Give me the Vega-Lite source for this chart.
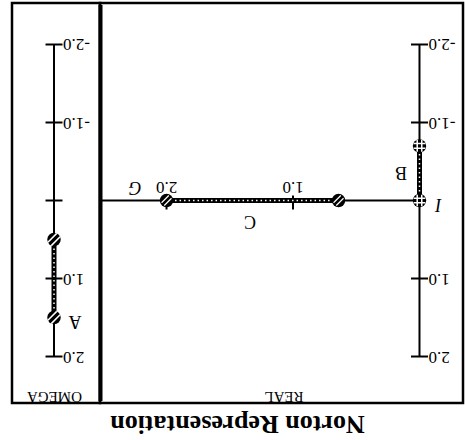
{
  "$schema": "https://vega.github.io/schema/vega-lite/v6.json",
  "padding": {"left": 10, "top": 1, "right": 2, "bottom": 2},
  "background": "white",
  "config": {"view": {"stroke": "black", "strokeWidth": 2.5}},
  "title": {"text": "Norton Representation", "orient": "bottom", "angle": 180, "baseline": "alphabetic", "offset": 11, "font": "Liberation Serif", "fontSize": 26, "fontWeight": "bold", "color": "black", "anchor": "middle"},
  "datasets": {
    "ticks": [{"v": -2, "lab": "-2.0"}, {"v": -1, "lab": "-1.0"}, {"v": 0, "lab": ""}, {"v": 1, "lab": "1.0"}, {"v": 2, "lab": "2.0"}],
    "curves": [
      {"curve": "A", "x": 0, "y": 0.5, "ord": 0},
      {"curve": "A", "x": 0, "y": 1.5, "ord": 1},
      {"curve": "B", "x": 0, "y": 0, "ord": 0},
      {"curve": "B", "x": 0, "y": -0.7, "ord": 1},
      {"curve": "C", "x": 0.64, "y": 0, "ord": 0},
      {"curve": "C", "x": 2.0, "y": 0, "ord": 1}
    ],
    "labels": [
      {"t": "A", "panel": "omega", "x": 0.21, "y": 1.545, "italic": false},
      {"t": "OMEGA", "panel": "omega", "x": 0.004, "y": 2.513, "italic": false},
      {"t": "B", "panel": "real", "x": 0.146, "y": -0.36, "italic": false},
      {"t": "C", "panel": "real", "x": 1.34, "y": 0.263, "italic": false},
      {"t": "G", "panel": "real", "x": 2.249, "y": -0.173, "italic": true},
      {"t": "I", "panel": "real", "x": -0.15, "y": 0.045, "italic": true},
      {"t": "REAL", "panel": "real", "x": 1.071, "y": 2.513, "italic": false}
    ],
    "realTicks": [{"x": 1, "lab": "1.0"}, {"x": 2, "lab": "2.0"}],
    "divider": [{"x": 2.522, "y": -2.505, "y2": 2.57}]
  },
  "hconcat": [
    {
      "width": 88,
      "height": 400,
      "layer": [
        {
          "data": {"values": [{"y": -2, "y2": 2}]},
          "mark": {"type": "rule", "strokeWidth": 2, "color": "black"},
          "encoding": {
            "x": {"datum": 0, "type": "quantitative", "scale": {"domain": [-0.42, 0.46], "nice": false, "zero": false}, "axis": null},
            "y": {"field": "y", "type": "quantitative", "scale": {"domain": [-2.532, 2.596], "reverse": true, "nice": false, "zero": false}, "axis": null},
            "y2": {"field": "y2"}
          }
        },
        {
          "data": {"name": "ticks"},
          "mark": {"type": "tick", "orient": "horizontal", "size": 17, "thickness": 2, "color": "black", "opacity": 1},
          "encoding": {
            "x": {"datum": 0, "type": "quantitative"},
            "y": {"field": "v", "type": "quantitative"}
          }
        },
        {
          "data": {"name": "ticks"},
          "mark": {"type": "text", "angle": 180, "align": "right", "baseline": "middle", "dx": -9, "font": "Liberation Serif", "fontSize": 17, "color": "black"},
          "encoding": {
            "x": {"datum": 0, "type": "quantitative"},
            "y": {"field": "v", "type": "quantitative"},
            "text": {"field": "lab"}
          }
        },
        {
          "data": {"name": "curves"},
          "transform": [{"filter": "datum.curve == 'A'"}],
          "layer": [
            {"mark": {"type": "line", "strokeWidth": 5, "color": "black"}},
            {"mark": {"type": "line", "strokeWidth": 1.5, "color": "white", "strokeDash": [1.5, 3]}},
            {"mark": {"type": "circle", "size": 180, "color": "black", "opacity": 1}},
            {"mark": {"type": "point", "shape": "M-0.41,0.91L0.91,-0.41M-0.91,0.41L0.41,-0.91", "filled": false, "stroke": "white", "strokeWidth": 1.5, "size": 180, "opacity": 1}}
          ],
          "encoding": {
            "x": {"field": "x", "type": "quantitative"},
            "y": {"field": "y", "type": "quantitative"},
            "order": {"field": "ord"},
            "detail": {"field": "curve"}
          }
        },
        {
          "data": {"name": "labels"},
          "transform": [{"filter": "datum.panel == 'omega' && datum.t == 'A'"}],
          "mark": {"type": "text", "angle": 180, "align": "center", "baseline": "middle", "font": "Liberation Serif", "fontSize": 18, "color": "black"},
          "encoding": {
            "x": {"field": "x", "type": "quantitative"},
            "y": {"field": "y", "type": "quantitative"},
            "text": {"field": "t"}
          }
        },
        {
          "data": {"name": "labels"},
          "transform": [{"filter": "datum.panel == 'omega' && datum.t == 'OMEGA'"}],
          "mark": {"type": "text", "angle": 180, "align": "center", "baseline": "middle", "font": "Liberation Serif", "fontSize": 15, "color": "black"},
          "encoding": {
            "x": {"field": "x", "type": "quantitative"},
            "y": {"field": "y", "type": "quantitative"},
            "text": {"field": "t"}
          }
        }
      ]
    },
    {
      "width": 363,
      "height": 400,
      "layer": [
        {
          "data": {"name": "divider"},
          "mark": {"type": "rule", "strokeWidth": 4, "color": "black"},
          "encoding": {
            "x": {"field": "x", "type": "quantitative", "scale": {"domain": [-0.344, 2.526], "reverse": true, "nice": false, "zero": false}, "axis": null},
            "y": {"field": "y", "type": "quantitative", "scale": {"domain": [-2.532, 2.596], "reverse": true, "nice": false, "zero": false}, "axis": null},
            "y2": {"field": "y2"}
          }
        },
        {
          "data": {"values": [{"y": -2, "y2": 2}]},
          "mark": {"type": "rule", "strokeWidth": 2, "color": "black"},
          "encoding": {
            "x": {"datum": 0, "type": "quantitative"},
            "y": {"field": "y", "type": "quantitative"},
            "y2": {"field": "y2"}
          }
        },
        {
          "data": {"values": [{"x": 0, "x2": 2.522}]},
          "mark": {"type": "rule", "strokeWidth": 2, "color": "black"},
          "encoding": {
            "x": {"field": "x", "type": "quantitative"},
            "x2": {"field": "x2"},
            "y": {"datum": 0, "type": "quantitative"}
          }
        },
        {
          "data": {"name": "ticks"},
          "transform": [{"filter": "datum.v != 0"}],
          "mark": {"type": "tick", "orient": "horizontal", "size": 17, "thickness": 2, "color": "black", "opacity": 1},
          "encoding": {
            "x": {"datum": 0, "type": "quantitative"},
            "y": {"field": "v", "type": "quantitative"}
          }
        },
        {
          "data": {"name": "ticks"},
          "transform": [{"filter": "datum.v != 0"}],
          "mark": {"type": "text", "angle": 180, "align": "right", "baseline": "middle", "dx": -9, "font": "Liberation Serif", "fontSize": 17, "color": "black"},
          "encoding": {
            "x": {"datum": 0, "type": "quantitative"},
            "y": {"field": "v", "type": "quantitative"},
            "text": {"field": "lab"}
          }
        },
        {
          "data": {"name": "realTicks"},
          "mark": {"type": "tick", "orient": "vertical", "size": 14, "thickness": 2, "yOffset": 2, "color": "black", "opacity": 1},
          "encoding": {
            "x": {"field": "x", "type": "quantitative"},
            "y": {"datum": 0, "type": "quantitative"}
          }
        },
        {
          "data": {"name": "realTicks"},
          "mark": {"type": "text", "angle": 180, "align": "center", "baseline": "middle", "font": "Liberation Serif", "fontSize": 17, "color": "black"},
          "encoding": {
            "x": {"field": "x", "type": "quantitative"},
            "y": {"datum": -0.173, "type": "quantitative"},
            "text": {"field": "lab"}
          }
        },
        {
          "data": {"name": "curves"},
          "transform": [{"filter": "datum.curve != 'A'"}],
          "layer": [
            {"mark": {"type": "line", "strokeWidth": 5, "color": "black"}},
            {"mark": {"type": "line", "strokeWidth": 1.5, "color": "white", "strokeDash": [1.5, 3]}},
            {"mark": {"type": "circle", "size": 180, "color": "black", "opacity": 1}},
            {
              "transform": [{"filter": "datum.curve == 'B'"}],
              "mark": {"type": "point", "shape": "M-0.35,-0.9L-0.35,0.9M0.35,-0.9L0.35,0.9M-0.9,-0.35L0.9,-0.35M-0.9,0.35L0.9,0.35", "filled": false, "stroke": "white", "strokeWidth": 1.5, "size": 170, "opacity": 1}
            },
            {
              "transform": [{"filter": "datum.curve == 'C'"}],
              "mark": {"type": "point", "shape": "M-0.41,0.91L0.91,-0.41M-0.91,0.41L0.41,-0.91", "filled": false, "stroke": "white", "strokeWidth": 1.2, "size": 120, "opacity": 1}
            }
          ],
          "encoding": {
            "x": {"field": "x", "type": "quantitative"},
            "y": {"field": "y", "type": "quantitative"},
            "order": {"field": "ord"},
            "detail": {"field": "curve"}
          }
        },
        {
          "data": {"name": "labels"},
          "transform": [{"filter": "datum.panel == 'real' && !datum.italic && datum.t != 'REAL'"}],
          "mark": {"type": "text", "angle": 180, "align": "center", "baseline": "middle", "font": "Liberation Serif", "fontSize": 18, "color": "black"},
          "encoding": {
            "x": {"field": "x", "type": "quantitative"},
            "y": {"field": "y", "type": "quantitative"},
            "text": {"field": "t"}
          }
        },
        {
          "data": {"name": "labels"},
          "transform": [{"filter": "datum.panel == 'real' && datum.italic"}],
          "mark": {"type": "text", "angle": 180, "align": "center", "baseline": "middle", "font": "Liberation Serif", "fontStyle": "italic", "fontSize": 18, "color": "black"},
          "encoding": {
            "x": {"field": "x", "type": "quantitative"},
            "y": {"field": "y", "type": "quantitative"},
            "text": {"field": "t"}
          }
        },
        {
          "data": {"name": "labels"},
          "transform": [{"filter": "datum.t == 'REAL'"}],
          "mark": {"type": "text", "angle": 180, "align": "center", "baseline": "middle", "font": "Liberation Serif", "fontSize": 15, "color": "black"},
          "encoding": {
            "x": {"field": "x", "type": "quantitative"},
            "y": {"field": "y", "type": "quantitative"},
            "text": {"field": "t"}
          }
        }
      ]
    }
  ],
  "spacing": 0,
  "bounds": "flush"
}
